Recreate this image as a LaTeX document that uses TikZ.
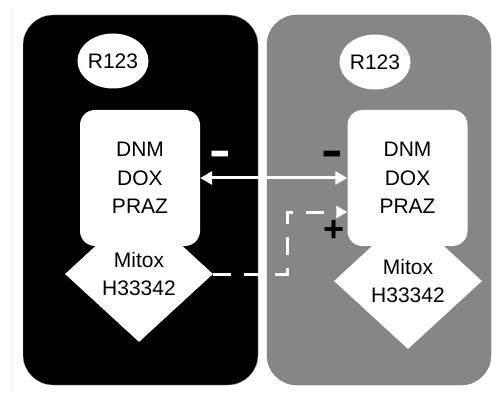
\documentclass[tikz,border=0pt]{standalone}
\usepackage{fontspec}
\setmainfont{Liberation Sans}
\usepackage{tikz}
\usetikzlibrary{shapes.geometric, arrows.meta, positioning}
\definecolor{cellgray}{HTML}{868686}
\tikzset{cell/.style={rectangle,draw=gray!70,rounded corners=30pt,minimum width=235pt,minimum height=370pt,inner sep=0pt},
         probe/.style={ellipse,fill=white,minimum width=63pt,minimum height=55pt,inner sep=0pt},
         substrate/.style={rectangle,fill=white,rounded corners=15pt,minimum width=120pt,minimum height=136pt,align=center,inner sep=0pt},
         inhib/.style={diamond,fill=white,minimum width=148pt,minimum height=136pt,inner sep=0pt,align=center},
         sign/.style={inner sep=0pt,font=\fontsize{48}{48}\selectfont\bfseries},
         plussign/.style={inner sep=0pt,font=\fontsize{36}{36}\selectfont\bfseries},
         flux/.style={draw=white,line width=3pt,{Triangle[length=12pt,width=13pt]}-{Triangle[length=12pt,width=13pt]}},
         dashflux/.style={draw=white,line width=3pt,dash pattern=on 18pt off 13pt,-{Triangle[length=11pt,width=12pt]}}}

\begin{document}
\begin{tikzpicture}[x=1pt,y=-1pt,font=\fontsize{21}{28.5}\selectfont]
    \useasboundingbox (0,0) rectangle (503,398);
    \draw[gray!12,line width=0.8pt] (12,8) -- (12,392);
    % the two cells
    \node (cellL) [cell, fill=black] at (140.5,200) {};
    \node (cellR) [cell, fill=cellgray, draw=gray!90!black, minimum width=224pt] at (379,200) {};
    % left cell
    \node (mitoxL) [inhib] at (139,274) {Mitox\\H33342};
    \node (drugL) [substrate] at (140,178) {DNM\\DOX\\PRAZ};
    \node (rhoL) [probe] at (113,61) {R123};
    % right cell
    \node (mitoxR) [inhib] at (408,281) {Mitox\\H33342};
    \node (drugR) [substrate] at (407.5,178) {DNM\\DOX\\PRAZ};
    \node (rhoR) [probe] at (375,62) {R123};
    % transport between the cells
    \draw[flux] (drugL) -- (drugR);
    \draw[dashflux] (mitoxL.east) -| ([xshift=-60pt,yshift=-34pt]drugR.west) -- ([yshift=-34pt]drugR.west);
    \node (minusL) [sign, text=white] at (220,159) {\scalebox{1.35}[1]{-}};
    \node (minusR) [sign] at (332,159) {\scalebox{1.35}[1]{-}};
    \node (plusR) [plussign] at (334,231) {+};
\end{tikzpicture}
\end{document}
